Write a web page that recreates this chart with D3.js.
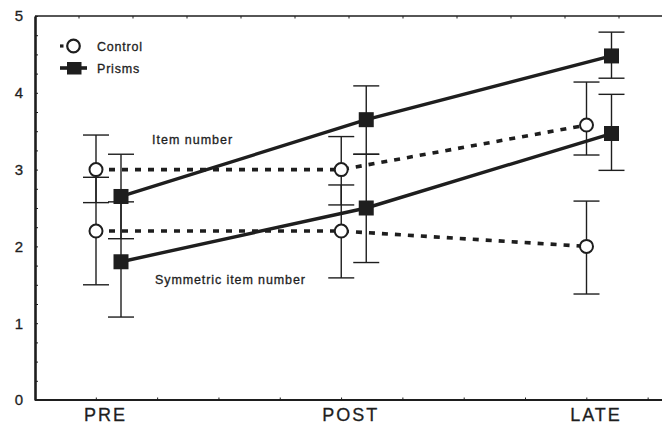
<!DOCTYPE html>
<html>
<head>
<meta charset="utf-8">
<script src="https://cdn.jsdelivr.net/npm/d3@7"></script>
<style>
  html, body { margin: 0; padding: 0; background: #fff; }
  svg { display: block; font-family: "Liberation Sans", Arial, Helvetica, sans-serif; }
  svg text { stroke: #1e1e1e; stroke-width: 0.3px; }
</style>
</head>
<body>
<svg id="chart" width="662" height="432"></svg>
<script>
// Sessions on the x axis
const sessions = ["PRE", "POST", "LATE"];
const yTicks = [0, 1, 2, 3, 4, 5];

// Control group: item number and symmetric item number (mean, upper and lower bar ends)
const controlItem      = [3.0, 3.0, 3.58];
const controlItemHi    = [3.45, 3.43, 4.14];
const controlItemLo    = [2.57, 2.54, 3.19];
const controlSym       = [2.2, 2.2, 2.0];
const controlSymHi     = [2.9, 2.8, 2.59];
const controlSymLo     = [1.5, 1.59, 1.38];

// Prism group
const prismItem        = [2.65, 3.65, 4.48];
const prismItemHi      = [3.2, 4.09, 4.79];
const prismItemLo      = [2.1, 3.2, 4.19];
const prismSym         = [1.8, 2.5, 3.47];
const prismSymHi       = [2.58, 3.2, 3.98];
const prismSymLo       = [1.08, 1.79, 2.99];

const seriesLabels = ["Control", "Prisms"];
const curveLabels = ["Item number", "Symmetric item number"];

const svg = d3.select("#chart");
const ink = "#1e1e1e";

const frameLeft = 35, frameTop = 16, frameBottom = 400, frameRight = 664;

const x = d3.scaleLinear().domain([0, 2]).range([108.5, 599]);
const y = d3.scaleLinear().domain([0, 5]).range([frameBottom, frameTop]);
const offset = { control: -12.5, prism: 12.5 };

// Frame: top edge and bottom axis line
svg.append("line").attr("x1", frameLeft).attr("x2", frameRight).attr("y1", frameTop).attr("y2", frameTop)
  .attr("stroke", ink).attr("stroke-width", 1.6);
svg.append("line").attr("x1", frameLeft).attr("x2", frameRight).attr("y1", frameBottom).attr("y2", frameBottom)
  .attr("stroke", ink).attr("stroke-width", 2);

// Left axis with inward minor ticks every quarter unit
const yAxis = d3.axisRight(y)
  .tickValues(d3.range(0, 5.01, 0.25))
  .tickSize(3)
  .tickSizeOuter(0)
  .tickFormat("");
const ya = svg.append("g").attr("transform", `translate(${frameLeft},0)`).call(yAxis);
ya.select(".domain").attr("stroke", ink).attr("stroke-width", 2.6);
ya.selectAll(".tick line").attr("stroke", ink).attr("stroke-width", 1);

svg.append("g").selectAll("text").data(yTicks).join("text")
  .attr("x", 19).attr("y", d => y(d)).attr("dy", "0.36em")
  .attr("text-anchor", "middle")
  .attr("font-size", 15).attr("fill", ink)
  .text(d => d);

// Small ticks along the bottom and top edges
const stepX = (x(1) - x(0)) / 4;
const bottomTicks = d3.range(frameLeft + stepX, frameRight, stepX);
svg.append("g").selectAll("line").data(bottomTicks).join("line")
  .attr("x1", d => d).attr("x2", d => d).attr("y1", frameBottom).attr("y2", frameBottom - 2.5)
  .attr("stroke", ink).attr("stroke-width", 1);
const topTicks = d3.range(619, frameLeft, -54);
svg.append("g").selectAll("line").data(topTicks).join("line")
  .attr("x1", d => d).attr("x2", d => d).attr("y1", frameTop).attr("y2", frameTop + 2.5)
  .attr("stroke", ink).attr("stroke-width", 1);

// Session labels
svg.append("g").selectAll("text").data(sessions).join("text")
  .attr("x", (d, i) => x(i) - 3).attr("y", 421)
  .attr("text-anchor", "middle")
  .attr("font-size", 18).attr("letter-spacing", 2).attr("fill", ink)
  .text(d => d);

// Error bars
function errorBars(mean, hi, lo, dx) {
  const g = svg.append("g").attr("stroke", ink).attr("stroke-width", 1.4);
  mean.forEach((m, i) => {
    const cx = x(i) + dx;
    g.append("line").attr("x1", cx).attr("x2", cx).attr("y1", y(hi[i])).attr("y2", y(lo[i]));
    [hi[i], lo[i]].forEach(v => {
      g.append("line").attr("x1", cx - 13).attr("x2", cx + 13).attr("y1", y(v)).attr("y2", y(v));
    });
  });
}
errorBars(controlItem, controlItemHi, controlItemLo, offset.control);
errorBars(controlSym, controlSymHi, controlSymLo, offset.control);
errorBars(prismItem, prismItemHi, prismItemLo, offset.prism);
errorBars(prismSym, prismSymHi, prismSymLo, offset.prism);

// Connecting lines
const line = dx => d3.line().x((d, i) => x(i) + dx).y(d => y(d));
[controlItem, controlSym].forEach(s => {
  svg.append("path").datum(s).attr("d", line(offset.control))
    .attr("fill", "none").attr("stroke", ink).attr("stroke-width", 3.6)
    .attr("stroke-dasharray", "6,7");
});
[prismItem, prismSym].forEach(s => {
  svg.append("path").datum(s).attr("d", line(offset.prism))
    .attr("fill", "none").attr("stroke", ink).attr("stroke-width", 3.4);
});

// Markers
[controlItem, controlSym].forEach(s => {
  svg.append("g").selectAll("circle").data(s).join("circle")
    .attr("cx", (d, i) => x(i) + offset.control).attr("cy", d => y(d)).attr("r", 6.5)
    .attr("fill", "#fff").attr("stroke", ink).attr("stroke-width", 2);
});
const sq = 15;
[prismItem, prismSym].forEach(s => {
  svg.append("g").selectAll("rect").data(s).join("rect")
    .attr("x", (d, i) => x(i) + offset.prism - sq / 2).attr("y", d => y(d) - sq / 2)
    .attr("width", sq).attr("height", sq).attr("fill", ink);
});

// Curve labels
svg.append("text").attr("x", 152).attr("y", 144).attr("font-size", 12.5)
  .attr("letter-spacing", 1).attr("fill", ink).text(curveLabels[0]);
svg.append("text").attr("x", 155).attr("y", 284).attr("font-size", 12.5)
  .attr("letter-spacing", 0.9).attr("fill", ink).text(curveLabels[1]);

// Legend
const lg = svg.append("g");
lg.append("line").attr("x1", 60).attr("x2", 63.5).attr("y1", 46).attr("y2", 46)
  .attr("stroke", ink).attr("stroke-width", 3.2);
lg.append("circle").attr("cx", 73.5).attr("cy", 46).attr("r", 6.3)
  .attr("fill", "#fff").attr("stroke", ink).attr("stroke-width", 2.2);
lg.append("line").attr("x1", 60).attr("x2", 87).attr("y1", 68).attr("y2", 68)
  .attr("stroke", ink).attr("stroke-width", 3.6);
lg.append("rect").attr("x", 67).attr("y", 62).attr("width", 14.5).attr("height", 12.5).attr("fill", ink);
lg.selectAll("text").data(seriesLabels).join("text")
  .attr("x", 97).attr("y", (d, i) => 51 + i * 22)
  .attr("font-size", 12.5).attr("letter-spacing", 0.8).attr("fill", ink)
  .text(d => d);
</script>
</body>
</html>
